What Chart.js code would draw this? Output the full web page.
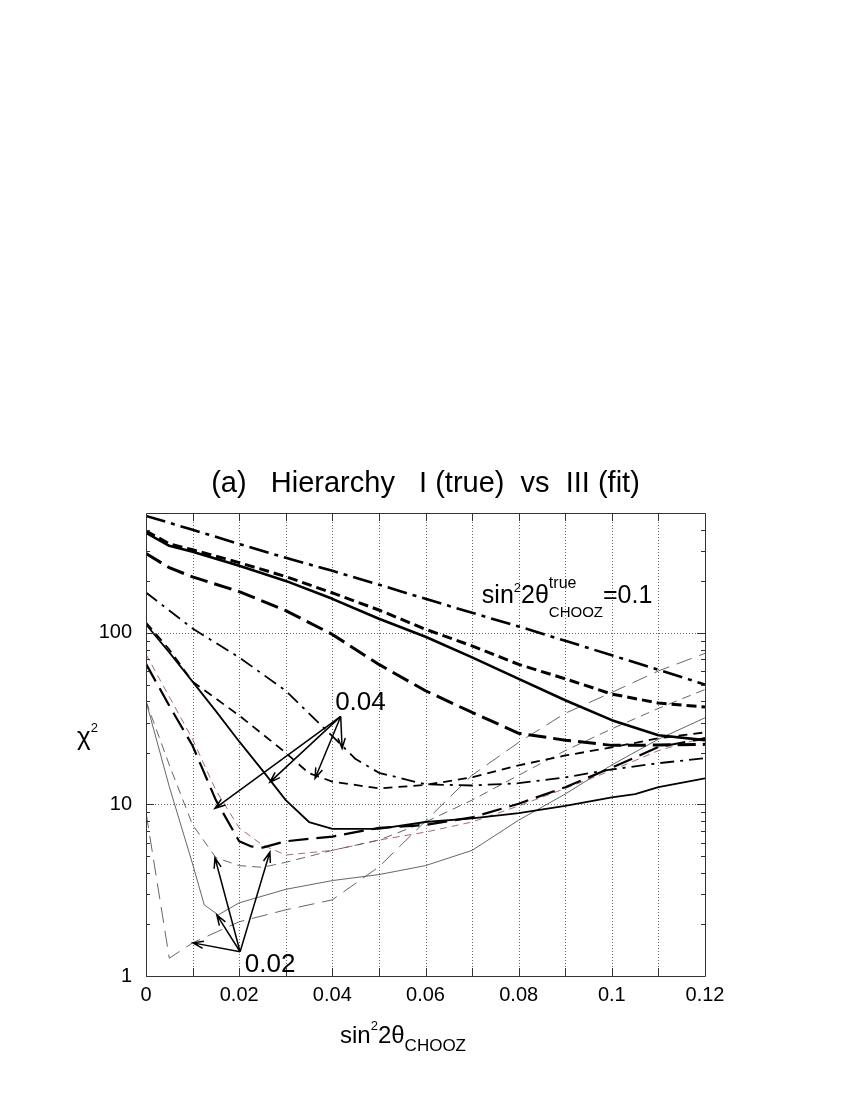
<!DOCTYPE html>
<html>
<head>
<meta charset="utf-8">
<script src="https://cdn.jsdelivr.net/npm/chart.js@4/dist/chart.umd.min.js"></script>
<style>
body { margin: 0; background: #fff; }
</style>
</head>
<body>
<canvas id="c" width="850" height="1100"></canvas>
<script>
const FONT = "'Liberation Sans', Arial, Helvetica, sans-serif";

// axes
const xTicks = [0, 0.02, 0.04, 0.06, 0.08, 0.1, 0.12];
const xGrid = [0.01, 0.02, 0.03, 0.04, 0.05, 0.06, 0.07, 0.08, 0.09, 0.1, 0.11];
const xMinorTicks = [0.01, 0.02, 0.03, 0.04, 0.05, 0.06, 0.07, 0.08, 0.09, 0.1, 0.11];
const yTicks = [1, 10, 100];
const yMinorTicks = [2, 3, 4, 5, 6, 7, 8, 9, 20, 30, 40, 50, 60, 70, 80, 90, 200, 300, 400];

// sin^2 2theta true = 0.1 (thick lines)
const x01 = [0, 0.005, 0.01, 0.02, 0.03, 0.04, 0.05, 0.06, 0.07, 0.08, 0.09, 0.1, 0.11, 0.12];
const solid01 = [383, 322, 297, 246, 201, 158, 121, 95, 72, 54, 40.5, 31, 25.3, 23.7];
const dash01 = [393, 331, 305, 257, 213, 171, 136, 105, 84, 65.5, 54, 44, 39, 37];
const longDash01 = [290, 240, 212, 174, 135, 98, 65.5, 46, 34.4, 26, 23.7, 22.1, 22.2, 22.4];
const xDashDot01 = [0, 0.01, 0.02, 0.03, 0.04, 0.05, 0.06, 0.07, 0.08, 0.09, 0.1, 0.11, 0.12];
const dashDot01 = [481, 399, 330, 274, 230, 191, 158, 131, 109, 90, 74, 61, 50];

// sin^2 2theta true = 0.04 (medium lines)
const xSolid04 = [0, 0.005, 0.01, 0.015, 0.02, 0.025, 0.03, 0.035, 0.04, 0.05, 0.06, 0.07, 0.08, 0.09, 0.095, 0.1, 0.105, 0.11, 0.12];
const solid04 = [112, 77, 52, 35, 23.3, 15.8, 10.6, 7.9, 7.2, 7.2, 7.9, 8.3, 8.9, 9.8, 10.4, 11.0, 11.5, 12.6, 14.2];
const xDash04 = [0, 0.005, 0.01, 0.02, 0.03, 0.035, 0.04, 0.05, 0.06, 0.07, 0.08, 0.09, 0.1, 0.11, 0.12];
const dash04 = [115, 80, 52, 33, 20, 15.2, 13.6, 12.4, 13.0, 14.4, 16.9, 19.3, 21.5, 24.3, 26.3];
const xDashDot04 = [0, 0.01, 0.02, 0.03, 0.04, 0.045, 0.05, 0.06, 0.07, 0.08, 0.09, 0.1, 0.11, 0.12];
const dashDot04 = [172, 106, 72, 46, 25, 18.4, 15.3, 13.1, 12.9, 13.3, 14.4, 16.0, 17.4, 18.6];
const xLongDash04 = [0, 0.005, 0.01, 0.015, 0.02, 0.0225, 0.025, 0.03, 0.035, 0.04, 0.045, 0.05, 0.06, 0.07, 0.08, 0.09, 0.1, 0.11, 0.12];
const longDash04 = [66, 37.6, 22, 10.6, 6.1, 5.7, 5.6, 6.1, 6.3, 6.5, 6.9, 7.3, 7.6, 8.4, 10.1, 12.6, 16.4, 21.6, 24.3];

// sin^2 2theta true = 0.02 (thin lines)
const xSolid02 = [0, 0.005, 0.01, 0.0125, 0.0155, 0.02, 0.03, 0.04, 0.05, 0.06, 0.07, 0.08, 0.09, 0.1, 0.11, 0.12];
const solid02 = [40, 12.7, 4.5, 2.6, 2.27, 2.67, 3.2, 3.6, 3.9, 4.4, 5.4, 8.1, 11.5, 17, 24, 32];
const xDashA02 = [0, 0.005, 0.01, 0.02, 0.03, 0.04, 0.05, 0.06, 0.07, 0.08, 0.09, 0.1, 0.11, 0.12];
const dashA02 = [9, 1.27, 1.56, 2.07, 2.43, 2.78, 4.33, 8.0, 14.8, 23, 34, 45, 60, 76];
const xDashB02 = [0, 0.005, 0.01, 0.015, 0.02, 0.025, 0.03, 0.04, 0.05, 0.06, 0.07, 0.08, 0.09, 0.1, 0.11, 0.12];
const dashB02 = [40, 17, 7.6, 4.9, 4.4, 4.3, 4.6, 5.4, 6.2, 7.9, 10.6, 14.8, 20.6, 27.6, 36.3, 46.8];
const xMagenta02 = [0, 0.01, 0.015, 0.02, 0.025, 0.03, 0.04, 0.05, 0.06, 0.07, 0.08, 0.09, 0.1, 0.11, 0.12];
const magenta02 = [75, 24, 12.1, 7.3, 5.8, 5.07, 5.4, 6.2, 6.9, 7.9, 9.8, 12.4, 15.8, 20.6, 24.6];

// labels and arrows, in data coordinates
const arrow04From = [0.0418, 32.6];
const arrow04To = [[0.0148, 9.5], [0.0266, 13.5], [0.0363, 14.2], [0.0421, 21.2]];
const arrow02From = [0.0202, 1.385];
const arrow02To = [[0.0148, 4.89], [0.0266, 5.28], [0.0152, 2.27], [0.0101, 1.56]];
const label04At = [0.0406, 35.3];
const label02At = [0.0212, 1.06];
const labelTrueAt = [0.0721, 150];

function pts(xs, ys) {
    return xs.map((x, i) => ({ x: x, y: ys[i] }));
}

function line(xs, ys, width, dash, color) {
    return {
        data: pts(xs, ys),
        borderColor: color || "#000",
        borderWidth: width,
        borderDash: dash,
        borderCapStyle: "butt",
        borderJoinStyle: "round",
        pointRadius: 0,
        fill: false,
        tension: 0
    };
}

function rich(ctx, x, y, parts) {
    let cx = x;
    parts.forEach(p => {
        const segs = Array.isArray(p[0]) ? p : [p];
        let w = 0;
        segs.forEach(([t, size, dy]) => {
            ctx.font = size + "px " + FONT;
            ctx.fillText(t, cx, y + dy);
            w = Math.max(w, ctx.measureText(t).width);
        });
        cx += w;
    });
}

function arrow(ctx, x0, y0, x1, y1) {
    const a = Math.atan2(y1 - y0, x1 - x0), L = 11, w = 0.33;
    ctx.beginPath();
    ctx.moveTo(x0, y0);
    ctx.lineTo(x1, y1);
    ctx.moveTo(x1 - L * Math.cos(a - w), y1 - L * Math.sin(a - w));
    ctx.lineTo(x1, y1);
    ctx.lineTo(x1 - L * Math.cos(a + w), y1 - L * Math.sin(a + w));
    ctx.stroke();
}

const decor = {
    id: "decor",
    beforeDatasetsDraw(chart) {
        const { ctx, chartArea: a, scales: { x, y } } = chart;
        ctx.save();
        ctx.strokeStyle = "#666";
        ctx.lineWidth = 1;
        ctx.setLineDash([1, 2]);
        ctx.beginPath();
        xGrid.forEach(v => {
            const px = Math.round(x.getPixelForValue(v)) + 0.5;
            ctx.moveTo(px, a.top);
            ctx.lineTo(px, a.bottom);
        });
        [10, 100].forEach(v => {
            const py = Math.round(y.getPixelForValue(v)) + 0.5;
            ctx.moveTo(a.left, py);
            ctx.lineTo(a.right, py);
        });
        ctx.stroke();
        ctx.restore();
    },
    afterDatasetsDraw(chart) {
        const { ctx, chartArea: a, scales: { x, y } } = chart;
        ctx.save();
        // frame and inward ticks
        ctx.strokeStyle = "#333";
        ctx.lineWidth = 1;
        ctx.beginPath();
        ctx.rect(a.left + 0.5, a.top + 0.5, a.right - a.left, a.bottom - a.top);
        xMinorTicks.forEach(v => {
            const px = Math.round(x.getPixelForValue(v)) + 0.5;
            ctx.moveTo(px, a.bottom); ctx.lineTo(px, a.bottom - 8);
            ctx.moveTo(px, a.top); ctx.lineTo(px, a.top + 8);
        });
        yMinorTicks.forEach(v => {
            const py = Math.round(y.getPixelForValue(v)) + 0.5;
            ctx.moveTo(a.left, py); ctx.lineTo(a.left + 4, py);
            ctx.moveTo(a.right, py); ctx.lineTo(a.right - 4, py);
        });
        yTicks.forEach(v => {
            const py = Math.round(y.getPixelForValue(v)) + 0.5;
            ctx.moveTo(a.left, py); ctx.lineTo(a.left + 8, py);
            ctx.moveTo(a.right, py); ctx.lineTo(a.right - 8, py);
        });
        ctx.stroke();

        // arrows
        ctx.strokeStyle = "#000";
        ctx.lineWidth = 1.5;
        const P = p => [x.getPixelForValue(p[0]), y.getPixelForValue(p[1])];
        [[arrow04From, arrow04To], [arrow02From, arrow02To]].forEach(([from, tos]) => {
            const [x0, y0] = P(from);
            tos.forEach(t => {
                const [x1, y1] = P(t);
                arrow(ctx, x0, y0, x1, y1);
            });
        });

        // labels
        ctx.fillStyle = "#000";
        ctx.textBaseline = "alphabetic";
        ctx.textAlign = "left";
        let [lx, ly] = P(label04At);
        rich(ctx, lx, ly, [["0.04", 26, 0]]);
        [lx, ly] = P(label02At);
        rich(ctx, lx, ly, [["0.02", 26, 0]]);
        [lx, ly] = P(labelTrueAt);
        rich(ctx, lx, ly, [["sin", 25, 0], ["2", 13, -11], ["2\u03b8", 25, 0],
            [["true", 16, -15], ["CHOOZ", 15, 14]], ["=0.1", 25, 0]]);
        ctx.restore();
    },
    afterDraw(chart) {
        const { ctx, chartArea: a } = chart;
        ctx.save();
        ctx.fillStyle = "#000";
        ctx.textBaseline = "alphabetic";
        ctx.textAlign = "center";
        ctx.font = "29px " + FONT;
        ctx.fillText("(a)   Hierarchy   I (true)  vs  III (fit)", (a.left + a.right) / 2, 492);
        ctx.textAlign = "left";
        rich(ctx, 340, 1043, [["sin", 24, 0], ["2", 13, -13], ["2\u03b8", 24, 0], ["CHOOZ", 17, 8]]);
        rich(ctx, 77, 745, [["\u03c7", 26, 0], ["2", 13, -13]]);
        ctx.restore();
    }
};

Chart.defaults.font.family = FONT;

new Chart(document.getElementById("c"), {
    type: "line",
    data: {
        datasets: [
            line(xDashDot01, dashDot01, 2.6, [20, 6, 4, 6]),
            line(x01, dash01, 3, [10, 5]),
            line(x01, solid01, 2.6, []),
            line(x01, longDash01, 3, [18, 7]),
            line(xDashDot04, dashDot04, 1.8, [14, 6, 3, 6]),
            line(xDash04, dash04, 1.8, [9, 6]),
            line(xSolid04, solid04, 1.8, []),
            line(xLongDash04, longDash04, 2.2, [20, 8]),
            line(xDashA02, dashA02, 0.9, [16, 8], "#555"),
            line(xDashB02, dashB02, 0.9, [9, 6], "#555"),
            line(xSolid02, solid02, 0.9, [], "#555"),
            line(xMagenta02, magenta02, 0.9, [7, 5], "#a0507e")
        ]
    },
    options: {
        responsive: false,
        animation: false,
        devicePixelRatio: 1,
        layout: { autoPadding: false, padding: { left: 0, right: 145, top: 513, bottom: 0 } },
        plugins: { legend: { display: false }, tooltip: { enabled: false } },
        scales: {
            x: {
                type: "linear",
                min: 0,
                max: 0.12,
                grid: { display: false, drawTicks: false },
                border: { display: false },
                afterBuildTicks: s => { s.ticks = xTicks.map(v => ({ value: v })); },
                afterFit: s => { s.height = 1100 - 976; },
                ticks: {
                    autoSkip: false,
                    maxRotation: 0,
                    padding: 7,
                    color: "#000",
                    font: { size: 20 },
                    callback: v => v === 0 ? "0" : String(+v.toFixed(2))
                }
            },
            y: {
                type: "logarithmic",
                min: 1,
                max: 500,
                grid: { display: false, drawTicks: false },
                border: { display: false },
                afterBuildTicks: s => { s.ticks = yTicks.map(v => ({ value: v })); },
                afterFit: s => { s.width = 146; },
                ticks: {
                    autoSkip: false,
                    padding: 14,
                    color: "#000",
                    font: { size: 20 },
                    callback: v => String(v)
                }
            }
        }
    },
    plugins: [decor]
});
</script>
</body>
</html>
